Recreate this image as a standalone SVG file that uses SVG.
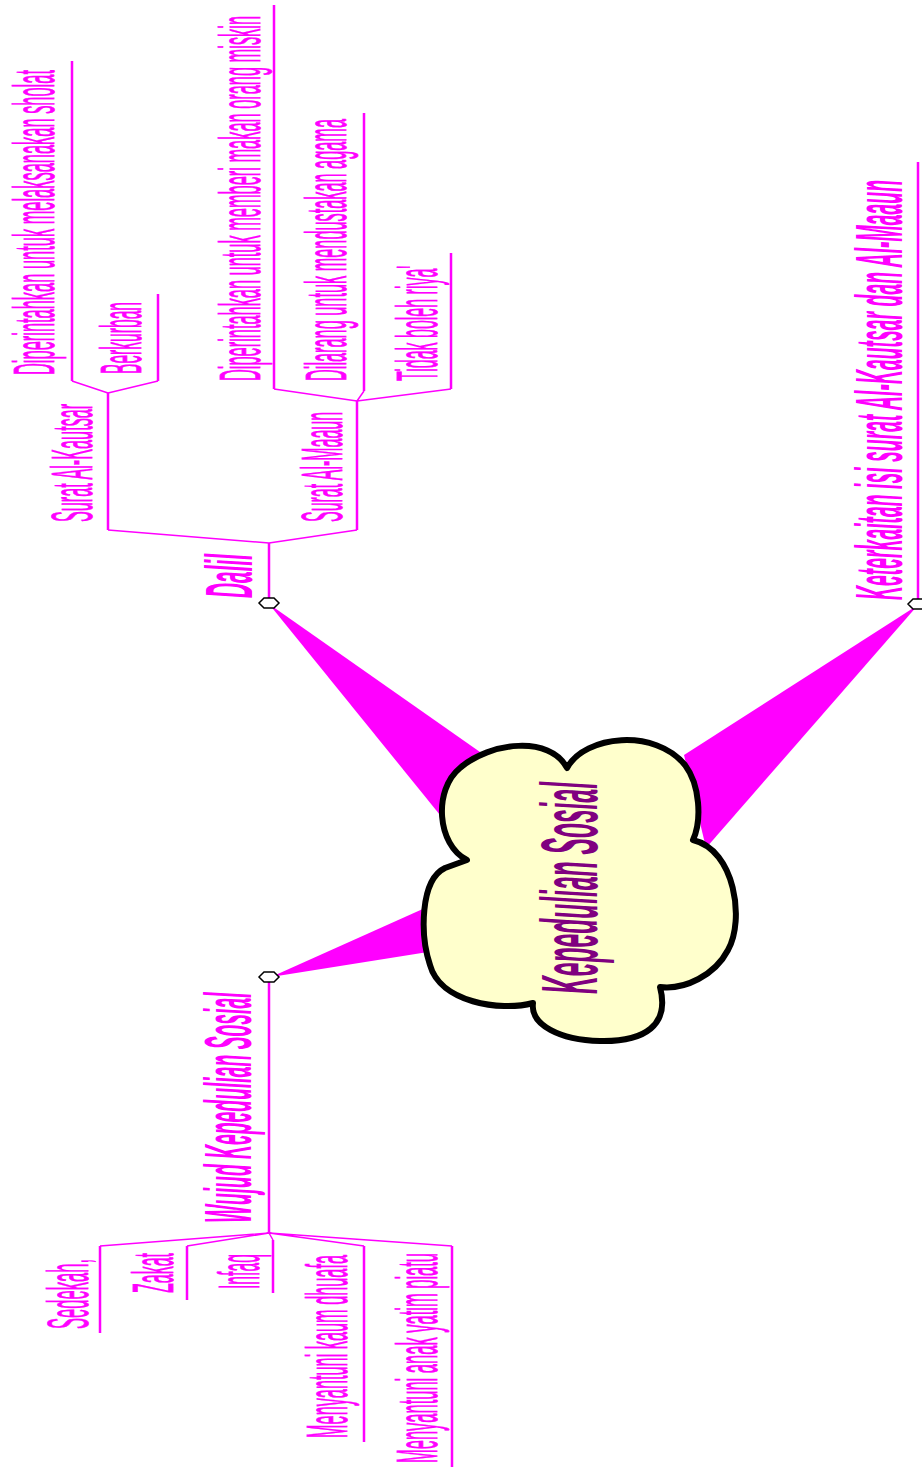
<svg xmlns="http://www.w3.org/2000/svg" width="922" height="1467" viewBox="0 0 922 1467">
<style>
.lbl{font-family:"Liberation Sans",Arial,sans-serif;font-size:58px;fill:#FF00FF;stroke:#FF00FF;stroke-width:0.8}
.main{font-family:"Liberation Sans",Arial,sans-serif;font-size:66px;font-weight:bold;font-style:italic;fill:#FF00FF}
.center{font-family:"Liberation Sans",Arial,sans-serif;font-size:80px;font-weight:bold;font-style:italic;fill:#800080}
.ln{stroke:#FF00FF;stroke-width:2.5;fill:none}
.br{stroke:#FF00FF;stroke-width:1.5;fill:none}
.taper{fill:#FF00FF}
.dot{fill:#FFFFFF;stroke:#000000;stroke-width:1.5}
</style>
<rect width="922" height="1467" fill="#FFFFFF"/>
<g id="connectors">
<polygon class="taper" points="269,604 480,752 440,815"/>
<polygon class="taper" points="271,977 425,908 428,952"/>
<polygon class="taper" points="918,605 684,755 706,848"/>
<path class="ln" d="M269,603 V543 M108,530 V393 M357,530 V401 M72,381 V61 M158,381 V294 M274,389 V5 M364,391 V113 M451,389 V253"/>
<path class="br" d="M269,543 L108,530 M269,543 L357,530 M108,393 L72,381 M108,393 L158,381 M357,401 L274,389 M357,401 L364,391 M357,401 L451,389"/>
<path class="ln" d="M269,977 V1233 M100,1246 V1333 M187,1246 V1300 M273,1240 V1293 M364,1246 V1442 M452,1246 V1467"/>
<path class="br" d="M269,1233 L100,1246 M269,1233 L187,1246 M269,1233 L273,1240 M269,1233 L364,1246 M269,1233 L452,1246"/>
<path class="ln" d="M918,604 V162"/>
</g>
<g id="central">
<path d="M467,860 C437,845 433,790 460,768 C490,742 550,735 567,768 C585,735 655,728 685,765 C700,785 702,820 693,840 C735,850 745,920 728,950 C715,975 685,990 660,987 C670,1025 645,1042 600,1041 C560,1040 530,1025 533,1003 C500,1012 440,1002 430,965 C420,935 420,880 445,868 Z" fill="#FFFFCC" stroke="#000000" stroke-width="6" stroke-linejoin="round"/>
<text class="center" transform="translate(597,994) rotate(-90) scale(0.3077,1)">Kepedulian Sosial</text>
</g>
<g id="dalil">
<polygon class="dot" points="259,603 264,598 274,598 279,603 274,608 264,608"/>
<text class="main" transform="translate(252,598) rotate(-90) scale(0.316,1)">Dalil</text>
</g>
<g id="surat-al-kautsar">
<text class="lbl" transform="translate(92,522) rotate(-90) scale(0.280,1)">Surat Al-Kautsar</text>
</g>
<g id="sholat">
<text class="lbl" transform="translate(54,375) rotate(-90) scale(0.2833,1)">Diperintahkan untuk melaksanakan sholat</text>
</g>
<g id="berkurban">
<text class="lbl" transform="translate(141,374) rotate(-90) scale(0.269,1)">Berkurban</text>
</g>
<g id="surat-al-maaun">
<text class="lbl" transform="translate(342,522) rotate(-90) scale(0.2755,1)">Surat Al-Maaun</text>
</g>
<g id="miskin">
<text class="lbl" transform="translate(260,381) rotate(-90) scale(0.2824,1)">Diperintahkan untuk memberi makan orang miskin</text>
</g>
<g id="dilarang">
<text class="lbl" transform="translate(346,381) rotate(-90) scale(0.2812,1)">Dilarang untuk mendustakan agama</text>
</g>
<g id="riya">
<text class="lbl" transform="translate(437,381) rotate(-90) scale(0.276,1)">Tidak boleh riya'</text>
</g>
<g id="keterkaitan">
<polygon class="dot" points="908,604 913,599 923,599 928,604 923,609 913,609"/>
<text class="main" transform="translate(902,600) rotate(-90) scale(0.294,1)">Keterkaitan isi surat Al-Kautsar dan Al-Maaun</text>
</g>
<g id="wujud">
<polygon class="dot" points="259,977 264,972 274,972 279,977 274,982 264,982"/>
<text class="main" transform="translate(251,1223) rotate(-90) scale(0.293,1)">Wujud Kepedulian Sosial</text>
</g>
<g id="sedekah">
<text class="lbl" transform="translate(88,1329) rotate(-90) scale(0.286,1)">Sedekah,</text>
</g>
<g id="zakat">
<text class="lbl" transform="translate(173,1293) rotate(-90) scale(0.276,1)">Zakat</text>
</g>
<g id="infaq">
<text class="lbl" transform="translate(259,1289) rotate(-90) scale(0.271,1)">Infaq</text>
</g>
<g id="dhuafa">
<text class="lbl" transform="translate(347,1438) rotate(-90) scale(0.281,1)">Menyantuni kaum dhuafa</text>
</g>
<g id="yatim">
<text class="lbl" transform="translate(437,1463) rotate(-90) scale(0.2845,1)">Menyantuni anak yatim piatu</text>
</g>
</svg>
